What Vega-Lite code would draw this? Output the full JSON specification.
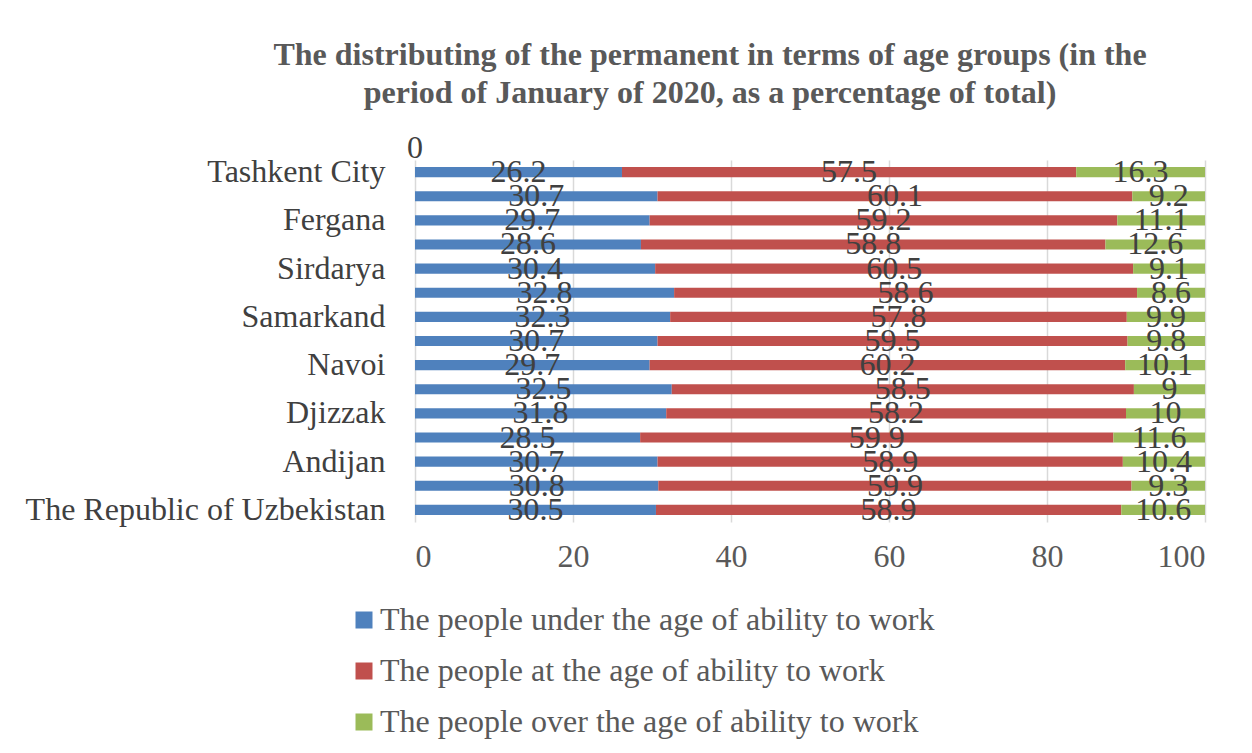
{
  "$schema": "https://vega.github.io/schema/vega-lite/v6.json",
  "width": 790,
  "height": 362,
  "autosize": {"type": "none"},
  "padding": {"left": 415, "top": 160, "right": 47, "bottom": 231},
  "background": "white",
  "title": {
    "text": ["The distributing of  the permanent  in terms of age groups (in the", "period of January of 2020, as a percentage of total)"],
    "font": "Liberation Serif",
    "fontSize": 32,
    "fontWeight": "bold",
    "color": "#595959",
    "anchor": "middle",
    "dx": -100,
    "offset": 22,
    "lineHeight": 38
  },
  "config": {
    "view": {"stroke": null},
    "font": "Liberation Serif"
  },
  "layer": [
    {
      "data": {"name": "main", "values": [
        {"region": "Tashkent City", "k": 1, "group": "The people under the age of ability to work", "value": 26.2},
        {"region": "Tashkent City", "k": 2, "group": "The people at the age of ability to work", "value": 57.5},
        {"region": "Tashkent City", "k": 3, "group": "The people over the age of ability to work", "value": 16.3},
        {"region": "Khorezm", "k": 1, "group": "The people under the age of ability to work", "value": 30.7},
        {"region": "Khorezm", "k": 2, "group": "The people at the age of ability to work", "value": 60.1},
        {"region": "Khorezm", "k": 3, "group": "The people over the age of ability to work", "value": 9.2},
        {"region": "Fergana", "k": 1, "group": "The people under the age of ability to work", "value": 29.7},
        {"region": "Fergana", "k": 2, "group": "The people at the age of ability to work", "value": 59.2},
        {"region": "Fergana", "k": 3, "group": "The people over the age of ability to work", "value": 11.1},
        {"region": "Tashkent", "k": 1, "group": "The people under the age of ability to work", "value": 28.6},
        {"region": "Tashkent", "k": 2, "group": "The people at the age of ability to work", "value": 58.8},
        {"region": "Tashkent", "k": 3, "group": "The people over the age of ability to work", "value": 12.6},
        {"region": "Sirdarya", "k": 1, "group": "The people under the age of ability to work", "value": 30.4},
        {"region": "Sirdarya", "k": 2, "group": "The people at the age of ability to work", "value": 60.5},
        {"region": "Sirdarya", "k": 3, "group": "The people over the age of ability to work", "value": 9.1},
        {"region": "Surkhandarya", "k": 1, "group": "The people under the age of ability to work", "value": 32.8},
        {"region": "Surkhandarya", "k": 2, "group": "The people at the age of ability to work", "value": 58.6},
        {"region": "Surkhandarya", "k": 3, "group": "The people over the age of ability to work", "value": 8.6},
        {"region": "Samarkand", "k": 1, "group": "The people under the age of ability to work", "value": 32.3},
        {"region": "Samarkand", "k": 2, "group": "The people at the age of ability to work", "value": 57.8},
        {"region": "Samarkand", "k": 3, "group": "The people over the age of ability to work", "value": 9.9},
        {"region": "Namangan", "k": 1, "group": "The people under the age of ability to work", "value": 30.7},
        {"region": "Namangan", "k": 2, "group": "The people at the age of ability to work", "value": 59.5},
        {"region": "Namangan", "k": 3, "group": "The people over the age of ability to work", "value": 9.8},
        {"region": "Navoi", "k": 1, "group": "The people under the age of ability to work", "value": 29.7},
        {"region": "Navoi", "k": 2, "group": "The people at the age of ability to work", "value": 60.2},
        {"region": "Navoi", "k": 3, "group": "The people over the age of ability to work", "value": 10.1},
        {"region": "Kashkadarya", "k": 1, "group": "The people under the age of ability to work", "value": 32.5},
        {"region": "Kashkadarya", "k": 2, "group": "The people at the age of ability to work", "value": 58.5},
        {"region": "Kashkadarya", "k": 3, "group": "The people over the age of ability to work", "value": 9},
        {"region": "Djizzak", "k": 1, "group": "The people under the age of ability to work", "value": 31.8},
        {"region": "Djizzak", "k": 2, "group": "The people at the age of ability to work", "value": 58.2},
        {"region": "Djizzak", "k": 3, "group": "The people over the age of ability to work", "value": 10},
        {"region": "Bukhara", "k": 1, "group": "The people under the age of ability to work", "value": 28.5},
        {"region": "Bukhara", "k": 2, "group": "The people at the age of ability to work", "value": 59.9},
        {"region": "Bukhara", "k": 3, "group": "The people over the age of ability to work", "value": 11.6},
        {"region": "Andijan", "k": 1, "group": "The people under the age of ability to work", "value": 30.7},
        {"region": "Andijan", "k": 2, "group": "The people at the age of ability to work", "value": 58.9},
        {"region": "Andijan", "k": 3, "group": "The people over the age of ability to work", "value": 10.4},
        {"region": "Karakalpakstan", "k": 1, "group": "The people under the age of ability to work", "value": 30.8},
        {"region": "Karakalpakstan", "k": 2, "group": "The people at the age of ability to work", "value": 59.9},
        {"region": "Karakalpakstan", "k": 3, "group": "The people over the age of ability to work", "value": 9.3},
        {"region": "The Republic of Uzbekistan", "k": 1, "group": "The people under the age of ability to work", "value": 30.5},
        {"region": "The Republic of Uzbekistan", "k": 2, "group": "The people at the age of ability to work", "value": 58.9},
        {"region": "The Republic of Uzbekistan", "k": 3, "group": "The people over the age of ability to work", "value": 10.6}
      ]},
      "transform": [
        {"stack": "value", "groupby": ["region"], "sort": [{"field": "k", "order": "ascending"}], "as": ["v0", "v1"]},
        {"calculate": "(datum.v0 + datum.v1) / 2", "as": "mid"}
      ],
      "layer": [
        {
          "mark": {"type": "bar"},
          "encoding": {
            "x": {
              "field": "v0", "type": "quantitative",
              "scale": {"domain": [0, 100], "nice": false},
              "axis": {
                "values": [0, 20, 40, 60, 80, 100],
                "title": null,
                "grid": true, "gridColor": "#d9d9d9", "gridWidth": 1.5,
                "domain": false, "ticks": false,
                "labelFont": "Liberation Serif", "labelFontSize": 32, "labelColor": "#595959",
                "labelPadding": 19
              }
            },
            "x2": {"field": "v1"},
            "y": {
              "field": "region", "type": "nominal",
              "sort": null,
              "scale": {
                "domain": ["Tashkent City", "Khorezm", "Fergana", "Tashkent", "Sirdarya", "Surkhandarya", "Samarkand", "Namangan", "Navoi", "Kashkadarya", "Djizzak", "Bukhara", "Andijan", "Karakalpakstan", "The Republic of Uzbekistan"],
                "paddingInner": 0.58, "paddingOuter": 0.29
              },
              "axis": {
                "title": null, "domain": false, "ticks": false, "grid": false,
                "labelFont": "Liberation Serif", "labelFontSize": 32, "labelColor": "#404040",
                "labelPadding": 30, "labelLimit": 500,
                "labelExpr": "indexof(['Khorezm','Tashkent','Surkhandarya','Namangan','Kashkadarya','Bukhara','Karakalpakstan'], datum.value) >= 0 ? '' : datum.label"
              }
            },
            "color": {
              "field": "group", "type": "nominal",
              "scale": {
                "domain": ["The people under the age of ability to work", "The people at the age of ability to work", "The people over the age of ability to work"],
                "range": ["#4f81bd", "#c0504d", "#9bbb59"]
              },
              "legend": {
                "orient": "none", "legendX": -67, "legendY": 444, "direction": "vertical",
                "title": null, "symbolType": "square", "symbolSize": 289, "symbolStrokeWidth": 0,
                "labelFont": "Liberation Serif", "labelFontSize": 32, "labelColor": "#595959",
                "labelLimit": 900, "rowPadding": 19, "labelOffset": 0
              }
            }
          }
        },
        {
          "mark": {"type": "text", "font": "Liberation Serif", "fontSize": 32, "color": "#404040", "baseline": "middle", "align": "center"},
          "encoding": {
            "x": {"field": "mid", "type": "quantitative"},
            "y": {"field": "region", "type": "nominal", "sort": null},
            "text": {"field": "value", "type": "quantitative"}
          }
        }
      ]
    },
    {
      "data": {"values": [{"region": "Tashkent City", "v": 0, "lab": "0"}]},
      "mark": {"type": "text", "font": "Liberation Serif", "fontSize": 32, "color": "#404040", "baseline": "middle", "align": "center", "dy": -24},
      "encoding": {
        "x": {"field": "v", "type": "quantitative"},
        "y": {"field": "region", "type": "nominal", "sort": null},
        "text": {"field": "lab", "type": "nominal"}
      }
    }
  ]
}
